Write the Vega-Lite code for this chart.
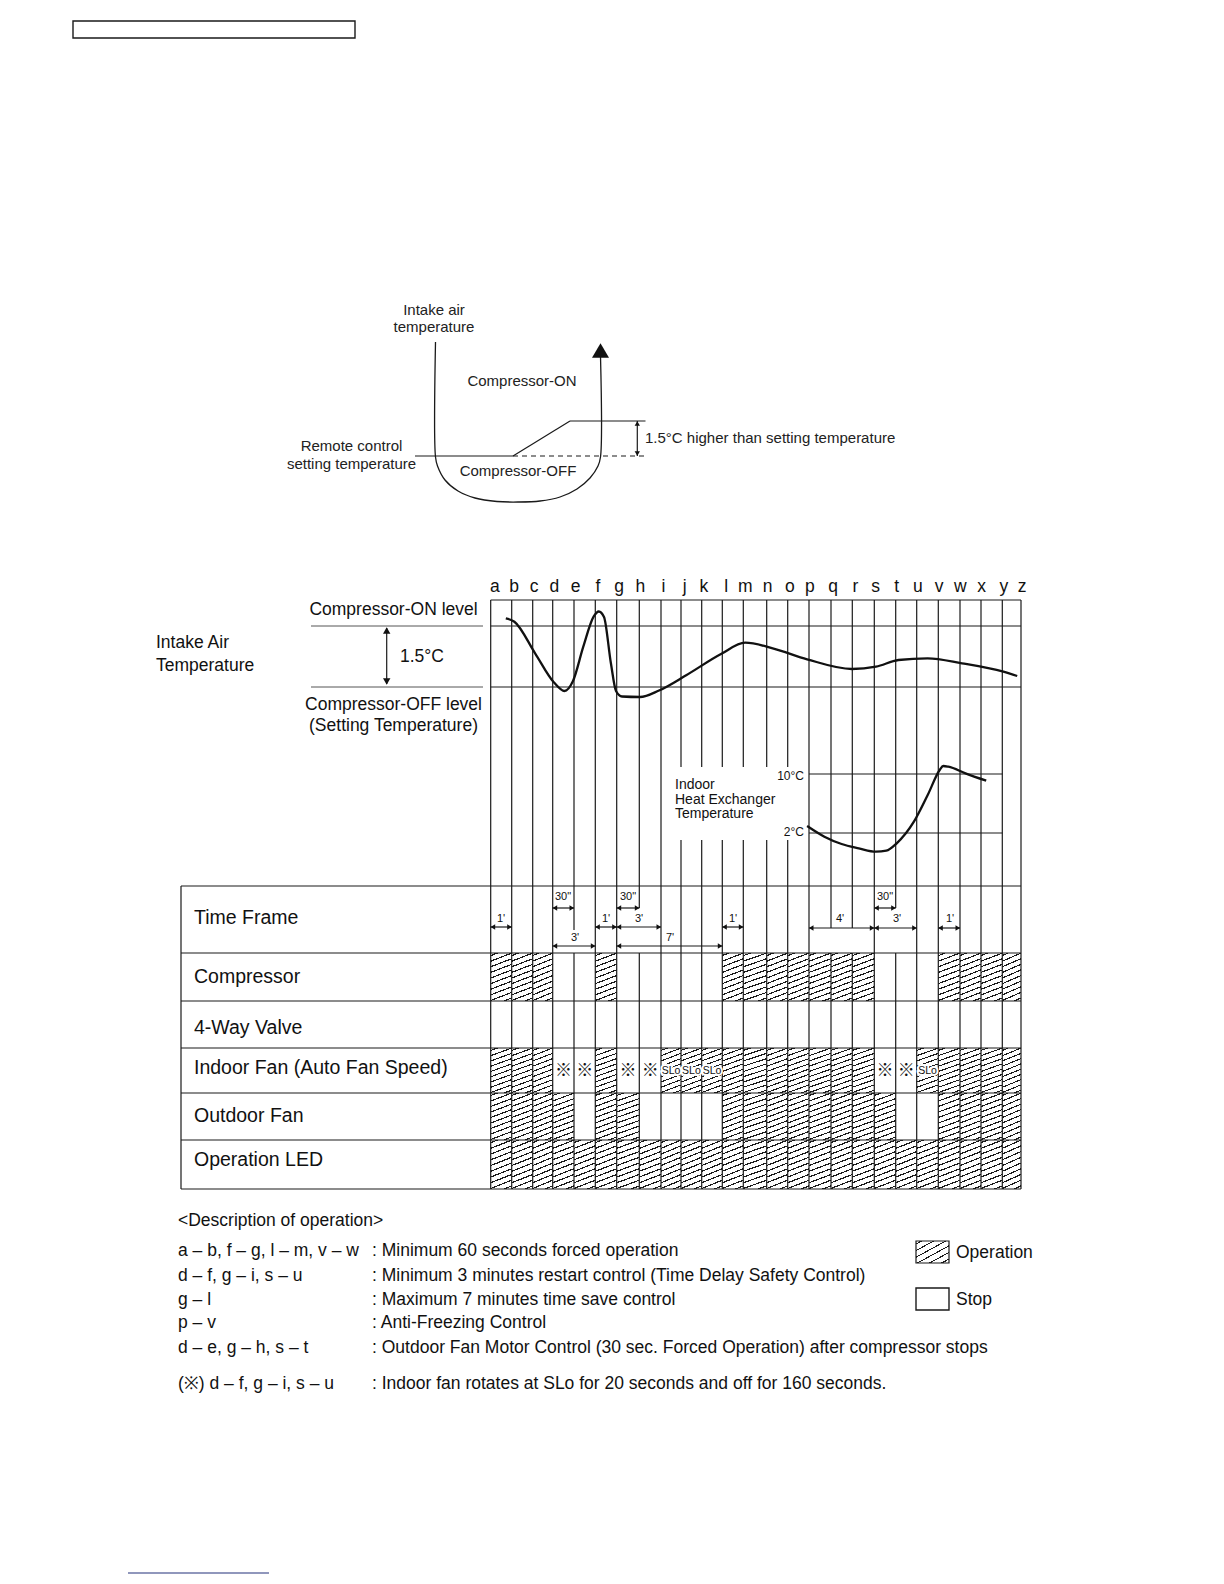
{
  "$schema": "https://vega.github.io/schema/vega-lite/v6.json",
  "width": 1224,
  "height": 1584,
  "autosize": {"type": "fit", "contains": "padding"},
  "padding": 0,
  "background": "white",
  "config": {"view": {"stroke": null}},
  "datasets": {
    "cells": [
      {"row":"Compressor","x1":490.7,"x2":511.7,"y1":953,"y2":1001},
      {"row":"Compressor","x1":511.7,"x2":532.7,"y1":953,"y2":1001},
      {"row":"Compressor","x1":532.7,"x2":552.7,"y1":953,"y2":1001},
      {"row":"Compressor","x1":595.3,"x2":616.7,"y1":953,"y2":1001},
      {"row":"Compressor","x1":722.3,"x2":743.3,"y1":953,"y2":1001},
      {"row":"Compressor","x1":743.3,"x2":766.7,"y1":953,"y2":1001},
      {"row":"Compressor","x1":766.7,"x2":787.7,"y1":953,"y2":1001},
      {"row":"Compressor","x1":787.7,"x2":809,"y1":953,"y2":1001},
      {"row":"Compressor","x1":809,"x2":831,"y1":953,"y2":1001},
      {"row":"Compressor","x1":831,"x2":852.3,"y1":953,"y2":1001},
      {"row":"Compressor","x1":852.3,"x2":874.3,"y1":953,"y2":1001},
      {"row":"Compressor","x1":938.3,"x2":960,"y1":953,"y2":1001},
      {"row":"Compressor","x1":960,"x2":981,"y1":953,"y2":1001},
      {"row":"Compressor","x1":981,"x2":1002.3,"y1":953,"y2":1001},
      {"row":"Compressor","x1":1002.3,"x2":1021,"y1":953,"y2":1001},
      {"row":"Indoor","x1":490.7,"x2":511.7,"y1":1048,"y2":1093},
      {"row":"Indoor","x1":511.7,"x2":532.7,"y1":1048,"y2":1093},
      {"row":"Indoor","x1":532.7,"x2":552.7,"y1":1048,"y2":1093},
      {"row":"Indoor","x1":595.3,"x2":616.7,"y1":1048,"y2":1093},
      {"row":"Indoor","x1":661,"x2":681,"y1":1048,"y2":1093},
      {"row":"Indoor","x1":681,"x2":701.7,"y1":1048,"y2":1093},
      {"row":"Indoor","x1":701.7,"x2":722.3,"y1":1048,"y2":1093},
      {"row":"Indoor","x1":722.3,"x2":743.3,"y1":1048,"y2":1093},
      {"row":"Indoor","x1":743.3,"x2":766.7,"y1":1048,"y2":1093},
      {"row":"Indoor","x1":766.7,"x2":787.7,"y1":1048,"y2":1093},
      {"row":"Indoor","x1":787.7,"x2":809,"y1":1048,"y2":1093},
      {"row":"Indoor","x1":809,"x2":831,"y1":1048,"y2":1093},
      {"row":"Indoor","x1":831,"x2":852.3,"y1":1048,"y2":1093},
      {"row":"Indoor","x1":852.3,"x2":874.3,"y1":1048,"y2":1093},
      {"row":"Indoor","x1":916.7,"x2":938.3,"y1":1048,"y2":1093},
      {"row":"Indoor","x1":938.3,"x2":960,"y1":1048,"y2":1093},
      {"row":"Indoor","x1":960,"x2":981,"y1":1048,"y2":1093},
      {"row":"Indoor","x1":981,"x2":1002.3,"y1":1048,"y2":1093},
      {"row":"Indoor","x1":1002.3,"x2":1021,"y1":1048,"y2":1093},
      {"row":"Outdoor","x1":490.7,"x2":511.7,"y1":1093,"y2":1140},
      {"row":"Outdoor","x1":511.7,"x2":532.7,"y1":1093,"y2":1140},
      {"row":"Outdoor","x1":532.7,"x2":552.7,"y1":1093,"y2":1140},
      {"row":"Outdoor","x1":552.7,"x2":574,"y1":1093,"y2":1140},
      {"row":"Outdoor","x1":595.3,"x2":616.7,"y1":1093,"y2":1140},
      {"row":"Outdoor","x1":616.7,"x2":639.3,"y1":1093,"y2":1140},
      {"row":"Outdoor","x1":722.3,"x2":743.3,"y1":1093,"y2":1140},
      {"row":"Outdoor","x1":743.3,"x2":766.7,"y1":1093,"y2":1140},
      {"row":"Outdoor","x1":766.7,"x2":787.7,"y1":1093,"y2":1140},
      {"row":"Outdoor","x1":787.7,"x2":809,"y1":1093,"y2":1140},
      {"row":"Outdoor","x1":809,"x2":831,"y1":1093,"y2":1140},
      {"row":"Outdoor","x1":831,"x2":852.3,"y1":1093,"y2":1140},
      {"row":"Outdoor","x1":852.3,"x2":874.3,"y1":1093,"y2":1140},
      {"row":"Outdoor","x1":874.3,"x2":895.7,"y1":1093,"y2":1140},
      {"row":"Outdoor","x1":938.3,"x2":960,"y1":1093,"y2":1140},
      {"row":"Outdoor","x1":960,"x2":981,"y1":1093,"y2":1140},
      {"row":"Outdoor","x1":981,"x2":1002.3,"y1":1093,"y2":1140},
      {"row":"Outdoor","x1":1002.3,"x2":1021,"y1":1093,"y2":1140},
      {"row":"LED","x1":490.7,"x2":511.7,"y1":1140,"y2":1189},
      {"row":"LED","x1":511.7,"x2":532.7,"y1":1140,"y2":1189},
      {"row":"LED","x1":532.7,"x2":552.7,"y1":1140,"y2":1189},
      {"row":"LED","x1":552.7,"x2":574,"y1":1140,"y2":1189},
      {"row":"LED","x1":574,"x2":595.3,"y1":1140,"y2":1189},
      {"row":"LED","x1":595.3,"x2":616.7,"y1":1140,"y2":1189},
      {"row":"LED","x1":616.7,"x2":639.3,"y1":1140,"y2":1189},
      {"row":"LED","x1":639.3,"x2":661,"y1":1140,"y2":1189},
      {"row":"LED","x1":661,"x2":681,"y1":1140,"y2":1189},
      {"row":"LED","x1":681,"x2":701.7,"y1":1140,"y2":1189},
      {"row":"LED","x1":701.7,"x2":722.3,"y1":1140,"y2":1189},
      {"row":"LED","x1":722.3,"x2":743.3,"y1":1140,"y2":1189},
      {"row":"LED","x1":743.3,"x2":766.7,"y1":1140,"y2":1189},
      {"row":"LED","x1":766.7,"x2":787.7,"y1":1140,"y2":1189},
      {"row":"LED","x1":787.7,"x2":809,"y1":1140,"y2":1189},
      {"row":"LED","x1":809,"x2":831,"y1":1140,"y2":1189},
      {"row":"LED","x1":831,"x2":852.3,"y1":1140,"y2":1189},
      {"row":"LED","x1":852.3,"x2":874.3,"y1":1140,"y2":1189},
      {"row":"LED","x1":874.3,"x2":895.7,"y1":1140,"y2":1189},
      {"row":"LED","x1":895.7,"x2":916.7,"y1":1140,"y2":1189},
      {"row":"LED","x1":916.7,"x2":938.3,"y1":1140,"y2":1189},
      {"row":"LED","x1":938.3,"x2":960,"y1":1140,"y2":1189},
      {"row":"LED","x1":960,"x2":981,"y1":1140,"y2":1189},
      {"row":"LED","x1":981,"x2":1002.3,"y1":1140,"y2":1189},
      {"row":"LED","x1":1002.3,"x2":1021,"y1":1140,"y2":1189}
    ],
    "legendHatch": [{"x1":916,"x2":949,"y1":1241,"y2":1263}],
    "boxes": [
      {"x1":73,"x2":355,"y1":21,"y2":38},
      {"x1":916,"x2":949,"y1":1288,"y2":1310}
    ],
    "segs": [
      {"x":490.7,"y":600,"x2":490.7,"y2":1189},
      {"x":511.7,"y":600,"x2":511.7,"y2":1189},
      {"x":532.7,"y":600,"x2":532.7,"y2":1189},
      {"x":552.7,"y":600,"x2":552.7,"y2":1189},
      {"x":574,"y":600,"x2":574,"y2":930},
      {"x":574,"y":953,"x2":574,"y2":1189},
      {"x":595.3,"y":600,"x2":595.3,"y2":1189},
      {"x":616.7,"y":600,"x2":616.7,"y2":1189},
      {"x":639.3,"y":600,"x2":639.3,"y2":908},
      {"x":639.3,"y":953,"x2":639.3,"y2":1189},
      {"x":661,"y":600,"x2":661,"y2":1189},
      {"x":681,"y":600,"x2":681,"y2":767},
      {"x":681,"y":840,"x2":681,"y2":1189},
      {"x":701.7,"y":600,"x2":701.7,"y2":767},
      {"x":701.7,"y":840,"x2":701.7,"y2":1189},
      {"x":722.3,"y":600,"x2":722.3,"y2":767},
      {"x":722.3,"y":840,"x2":722.3,"y2":1189},
      {"x":743.3,"y":600,"x2":743.3,"y2":767},
      {"x":743.3,"y":840,"x2":743.3,"y2":1189},
      {"x":766.7,"y":600,"x2":766.7,"y2":767},
      {"x":766.7,"y":840,"x2":766.7,"y2":1189},
      {"x":787.7,"y":600,"x2":787.7,"y2":767},
      {"x":787.7,"y":840,"x2":787.7,"y2":1189},
      {"x":809,"y":600,"x2":809,"y2":1189},
      {"x":831,"y":600,"x2":831,"y2":928},
      {"x":831,"y":953,"x2":831,"y2":1189},
      {"x":852.3,"y":600,"x2":852.3,"y2":928},
      {"x":852.3,"y":953,"x2":852.3,"y2":1189},
      {"x":874.3,"y":600,"x2":874.3,"y2":1189},
      {"x":895.7,"y":600,"x2":895.7,"y2":908},
      {"x":895.7,"y":953,"x2":895.7,"y2":1189},
      {"x":916.7,"y":600,"x2":916.7,"y2":1189},
      {"x":938.3,"y":600,"x2":938.3,"y2":1189},
      {"x":960,"y":600,"x2":960,"y2":1189},
      {"x":981,"y":600,"x2":981,"y2":1189},
      {"x":1002.3,"y":600,"x2":1002.3,"y2":1189},
      {"x":1021,"y":600,"x2":1021,"y2":1189},
      {"x":181,"y":886,"x2":181,"y2":1189},
      {"x":490.7,"y":600,"x2":1021,"y2":600},
      {"x":490.7,"y":626,"x2":1021,"y2":626},
      {"x":490.7,"y":687,"x2":1021,"y2":687},
      {"x":809,"y":774,"x2":1002.3,"y2":774},
      {"x":809,"y":833,"x2":1002.3,"y2":833},
      {"x":181,"y":886,"x2":1021,"y2":886},
      {"x":181,"y":953,"x2":1021,"y2":953},
      {"x":181,"y":1001,"x2":1021,"y2":1001},
      {"x":181,"y":1048,"x2":1021,"y2":1048},
      {"x":181,"y":1093,"x2":1021,"y2":1093},
      {"x":181,"y":1140,"x2":1021,"y2":1140},
      {"x":181,"y":1189,"x2":1021,"y2":1189},
      {"x":415,"y":456,"x2":513,"y2":456},
      {"x":513,"y":456,"x2":570,"y2":421},
      {"x":570,"y":421,"x2":645.5,"y2":421},
      {"x":637.3,"y":421,"x2":637.3,"y2":456},
      {"x":386.7,"y":628,"x2":386.7,"y2":684},
      {"x":490.7,"y":927,"x2":511.7,"y2":927},
      {"x":552.7,"y":908,"x2":574,"y2":908},
      {"x":552.7,"y":946,"x2":595.3,"y2":946},
      {"x":595.3,"y":927,"x2":616.7,"y2":927},
      {"x":616.7,"y":908,"x2":639.3,"y2":908},
      {"x":616.7,"y":927,"x2":661,"y2":927},
      {"x":616.7,"y":946,"x2":722.3,"y2":946},
      {"x":722.3,"y":927,"x2":743.3,"y2":927},
      {"x":809,"y":928,"x2":874.3,"y2":928},
      {"x":874.3,"y":908,"x2":895.7,"y2":908},
      {"x":874.3,"y":928,"x2":916.7,"y2":928},
      {"x":938.3,"y":928,"x2":960,"y2":928}
    ],
    "graySegs": [
      {"x":311,"y":626,"x2":483,"y2":626},
      {"x":311,"y":687,"x2":483,"y2":687}
    ],
    "dashSegs": [{"x":513,"y":456,"x2":645.5,"y2":456}],
    "footSegs": [{"x":128,"y":1573,"x2":269,"y2":1573}],
    "intake": [
      {"x":505.8,"y":618.3},{"x":514.4,"y":621.7},{"x":535.1,"y":653.3},{"x":554,"y":682.5},
      {"x":564.4,"y":691},{"x":573,"y":681},{"x":583.3,"y":646.7},{"x":593.6,"y":616.7},
      {"x":598.8,"y":611.5},{"x":604,"y":617},{"x":610.9,"y":663.3},{"x":616,"y":691},
      {"x":622,"y":696.5},{"x":640,"y":697},{"x":659,"y":690.5},{"x":686.6,"y":675},
      {"x":721,"y":654},{"x":745.2,"y":642.7},{"x":772.7,"y":648.3},{"x":807.1,"y":659.3},
      {"x":851.9,"y":669},{"x":876,"y":666.7},{"x":898.4,"y":660},{"x":927.6,"y":658.3},
      {"x":962,"y":663.3},{"x":1003.4,"y":671.7},{"x":1017.2,"y":676}
    ],
    "heat": [
      {"x":807.1,"y":826},{"x":824.4,"y":836.7},{"x":841.6,"y":844},{"x":858.8,"y":848.3},
      {"x":876,"y":851.7},{"x":886.3,"y":850.7},{"x":896.7,"y":843.3},{"x":913.9,"y":821.7},
      {"x":927.7,"y":795},{"x":939.7,"y":770},{"x":943.2,"y":766},{"x":948.3,"y":766.7},
      {"x":965.5,"y":773.3},{"x":986.2,"y":780.7}
    ],
    "ushape": [
      {"i":0,"x":435.5,"y":342},{"i":1,"x":435.5,"y":457},{"i":2,"x":437.5,"y":466},
      {"i":3,"x":445,"y":480},{"i":4,"x":458,"y":491},{"i":5,"x":475,"y":498},
      {"i":6,"x":497,"y":501.5},{"i":7,"x":518,"y":502},{"i":8,"x":540,"y":501},
      {"i":9,"x":560,"y":497},{"i":10,"x":577,"y":489},{"i":11,"x":590,"y":478},
      {"i":12,"x":598,"y":466},{"i":13,"x":600.5,"y":457},{"i":14,"x":600.5,"y":356}
    ],
    "heads": [
      {"x":492.9,"y":927,"dir":"l"},{"x":509.5,"y":927,"dir":"r"},
      {"x":554.9,"y":908,"dir":"l"},{"x":571.8,"y":908,"dir":"r"},
      {"x":554.9,"y":946,"dir":"l"},{"x":593.1,"y":946,"dir":"r"},
      {"x":597.5,"y":927,"dir":"l"},{"x":614.5,"y":927,"dir":"r"},
      {"x":618.9,"y":908,"dir":"l"},{"x":637.1,"y":908,"dir":"r"},
      {"x":618.9,"y":927,"dir":"l"},{"x":658.8,"y":927,"dir":"r"},
      {"x":618.9,"y":946,"dir":"l"},{"x":720.1,"y":946,"dir":"r"},
      {"x":724.5,"y":927,"dir":"l"},{"x":741.1,"y":927,"dir":"r"},
      {"x":811.2,"y":928,"dir":"l"},{"x":872.1,"y":928,"dir":"r"},
      {"x":876.5,"y":908,"dir":"l"},{"x":893.5,"y":908,"dir":"r"},
      {"x":876.5,"y":928,"dir":"l"},{"x":914.5,"y":928,"dir":"r"},
      {"x":940.5,"y":928,"dir":"l"},{"x":957.8,"y":928,"dir":"r"},
      {"x":637.3,"y":423.5,"dir":"u"},{"x":637.3,"y":453.5,"dir":"d"}
    ],
    "headsMid": [
      {"x":386.7,"y":630.5,"dir":"u"},{"x":386.7,"y":681.5,"dir":"d"}
    ],
    "headsBig": [{"x":600.5,"y":350.5,"dir":"u"}],
    "tSchemC": [
      {"x":434,"y":310,"t":"Intake air"},
      {"x":434,"y":327,"t":"temperature"},
      {"x":522,"y":381,"t":"Compressor-ON"},
      {"x":518,"y":471,"t":"Compressor-OFF"},
      {"x":351.5,"y":446,"t":"Remote control"},
      {"x":351.5,"y":464,"t":"setting temperature"}
    ],
    "tSchemL": [{"x":645,"y":438,"t":"1.5°C higher than setting temperature"}],
    "tLettersC": [
      {"x":494.8,"y":587,"t":"a"},{"x":514,"y":587,"t":"b"},{"x":534.2,"y":587,"t":"c"},
      {"x":554.4,"y":587,"t":"d"},{"x":575.6,"y":587,"t":"e"},{"x":597.9,"y":587,"t":"f"},
      {"x":619,"y":587,"t":"g"},{"x":640.3,"y":587,"t":"h"},{"x":663.5,"y":587,"t":"i"},
      {"x":684.7,"y":587,"t":"j"},{"x":703.9,"y":587,"t":"k"},{"x":726.1,"y":587,"t":"l"},
      {"x":745.3,"y":587,"t":"m"},{"x":767.5,"y":587,"t":"n"},{"x":789.8,"y":587,"t":"o"},
      {"x":809.9,"y":587,"t":"p"},{"x":833.2,"y":587,"t":"q"},{"x":855.4,"y":587,"t":"r"},
      {"x":875.6,"y":587,"t":"s"},{"x":896.8,"y":587,"t":"t"},{"x":917.9,"y":587,"t":"u"},
      {"x":939.2,"y":587,"t":"v"},{"x":960.4,"y":587,"t":"w"},{"x":981.6,"y":587,"t":"x"},
      {"x":1003.8,"y":587,"t":"y"},{"x":1022,"y":587,"t":"z"},
      {"x":393.5,"y":610,"t":"Compressor-ON level"},
      {"x":393.5,"y":705,"t":"Compressor-OFF level"},
      {"x":393.5,"y":726,"t":"(Setting Temperature)"}
    ],
    "tGridL": [
      {"x":156,"y":643,"t":"Intake Air"},
      {"x":156,"y":666,"t":"Temperature"},
      {"x":400,"y":657,"t":"1.5°C"}
    ],
    "tHeat": [
      {"x":675,"y":785,"t":"Indoor"},
      {"x":675,"y":800,"t":"Heat Exchanger"},
      {"x":675,"y":814,"t":"Temperature"}
    ],
    "tDeg": [
      {"x":804,"y":776,"t":"10°C"},
      {"x":804,"y":832,"t":"2°C"}
    ],
    "tTable": [
      {"x":194,"y":918,"t":"Time Frame"},
      {"x":194,"y":977,"t":"Compressor"},
      {"x":194,"y":1028,"t":"4-Way Valve"},
      {"x":194,"y":1068,"t":"Indoor Fan (Auto Fan Speed)"},
      {"x":194,"y":1116,"t":"Outdoor Fan"},
      {"x":194,"y":1160,"t":"Operation LED"}
    ],
    "tTime": [
      {"x":501,"y":919,"t":"1'"},
      {"x":563,"y":897,"t":"30\""},
      {"x":575,"y":938,"t":"3'"},
      {"x":606,"y":919,"t":"1'"},
      {"x":628,"y":897,"t":"30\""},
      {"x":639,"y":919,"t":"3'"},
      {"x":670,"y":938,"t":"7'"},
      {"x":733,"y":919,"t":"1'"},
      {"x":840,"y":919,"t":"4'"},
      {"x":885,"y":897,"t":"30\""},
      {"x":897,"y":919,"t":"3'"},
      {"x":950,"y":919,"t":"1'"}
    ],
    "tMark": [
      {"x":563.4,"y":1071,"t":"※"},{"x":584.7,"y":1071,"t":"※"},
      {"x":628,"y":1071,"t":"※"},{"x":650.2,"y":1071,"t":"※"},
      {"x":885,"y":1071,"t":"※"},{"x":906.2,"y":1071,"t":"※"}
    ],
    "tSlo": [
      {"x":671,"y":1071,"t":"SLo"},{"x":691.4,"y":1071,"t":"SLo"},
      {"x":712,"y":1071,"t":"SLo"},{"x":927.5,"y":1071,"t":"SLo"}
    ],
    "tDesc": [
      {"x":178,"y":1221,"t":"<Description of operation>"},
      {"x":178,"y":1251,"t":"a – b, f – g, l – m, v – w"},
      {"x":178,"y":1275.5,"t":"d – f, g – i, s – u"},
      {"x":178,"y":1300,"t":"g – l"},
      {"x":178,"y":1323,"t":"p – v"},
      {"x":178,"y":1348,"t":"d – e, g – h, s – t"},
      {"x":178,"y":1383.5,"t":"(※) d – f, g – i, s – u"},
      {"x":372,"y":1251,"t":": Minimum 60 seconds forced operation"},
      {"x":372,"y":1275.5,"t":": Minimum 3 minutes restart control (Time Delay Safety Control)"},
      {"x":372,"y":1300,"t":": Maximum 7 minutes time save control"},
      {"x":372,"y":1323,"t":": Anti-Freezing Control"},
      {"x":372,"y":1348,"t":": Outdoor Fan Motor Control (30 sec. Forced Operation) after compressor stops"},
      {"x":372,"y":1383.5,"t":": Indoor fan rotates at SLo for 20 seconds and off for 160 seconds."},
      {"x":956,"y":1253,"t":"Operation"},
      {"x":956,"y":1300,"t":"Stop"}
    ]
  },
  "layer": [
    {
      "data": {"name": "cells"},
      "mark": {"type": "rect", "strokeWidth": 0, "fill": {"gradient": "linear", "x1": 0, "y1": 0, "x2": 0.193, "y2": 1.137, "stops": [
        {"offset":0,"color":"#ffffff"},
        {"offset":0.035,"color":"#ffffff"},{"offset":0.035,"color":"#1a1a1a"},{"offset":0.057,"color":"#1a1a1a"},{"offset":0.057,"color":"#ffffff"},
        {"offset":0.135,"color":"#ffffff"},{"offset":0.135,"color":"#1a1a1a"},{"offset":0.157,"color":"#1a1a1a"},{"offset":0.157,"color":"#ffffff"},
        {"offset":0.235,"color":"#ffffff"},{"offset":0.235,"color":"#1a1a1a"},{"offset":0.257,"color":"#1a1a1a"},{"offset":0.257,"color":"#ffffff"},
        {"offset":0.335,"color":"#ffffff"},{"offset":0.335,"color":"#1a1a1a"},{"offset":0.357,"color":"#1a1a1a"},{"offset":0.357,"color":"#ffffff"},
        {"offset":0.435,"color":"#ffffff"},{"offset":0.435,"color":"#1a1a1a"},{"offset":0.457,"color":"#1a1a1a"},{"offset":0.457,"color":"#ffffff"},
        {"offset":0.535,"color":"#ffffff"},{"offset":0.535,"color":"#1a1a1a"},{"offset":0.557,"color":"#1a1a1a"},{"offset":0.557,"color":"#ffffff"},
        {"offset":0.635,"color":"#ffffff"},{"offset":0.635,"color":"#1a1a1a"},{"offset":0.657,"color":"#1a1a1a"},{"offset":0.657,"color":"#ffffff"},
        {"offset":0.735,"color":"#ffffff"},{"offset":0.735,"color":"#1a1a1a"},{"offset":0.757,"color":"#1a1a1a"},{"offset":0.757,"color":"#ffffff"},
        {"offset":0.835,"color":"#ffffff"},{"offset":0.835,"color":"#1a1a1a"},{"offset":0.857,"color":"#1a1a1a"},{"offset":0.857,"color":"#ffffff"},
        {"offset":0.935,"color":"#ffffff"},{"offset":0.935,"color":"#1a1a1a"},{"offset":0.957,"color":"#1a1a1a"},{"offset":0.957,"color":"#ffffff"},
        {"offset":1,"color":"#ffffff"}
      ]}},
      "encoding": {
        "x": {"field": "x1", "type": "quantitative", "scale": {"domain": [0, 1224], "nice": false, "zero": false}, "axis": null},
        "x2": {"field": "x2"},
        "y": {"field": "y1", "type": "quantitative", "scale": {"domain": [1584, 0], "nice": false, "zero": false}, "axis": null},
        "y2": {"field": "y2"}
      }
    },
    {
      "data": {"name": "legendHatch"},
      "mark": {"type": "rect", "stroke": "#1a1a1a", "strokeWidth": 1.2, "fill": {"gradient": "linear", "x1": 0, "y1": 0, "x2": 0.891, "y2": 1.089, "stops": [
        {"offset":0,"color":"#ffffff"},
        {"offset":0.06,"color":"#ffffff"},{"offset":0.06,"color":"#1a1a1a"},{"offset":0.09,"color":"#1a1a1a"},{"offset":0.09,"color":"#ffffff"},
        {"offset":0.225,"color":"#ffffff"},{"offset":0.225,"color":"#1a1a1a"},{"offset":0.255,"color":"#1a1a1a"},{"offset":0.255,"color":"#ffffff"},
        {"offset":0.39,"color":"#ffffff"},{"offset":0.39,"color":"#1a1a1a"},{"offset":0.42,"color":"#1a1a1a"},{"offset":0.42,"color":"#ffffff"},
        {"offset":0.555,"color":"#ffffff"},{"offset":0.555,"color":"#1a1a1a"},{"offset":0.585,"color":"#1a1a1a"},{"offset":0.585,"color":"#ffffff"},
        {"offset":0.72,"color":"#ffffff"},{"offset":0.72,"color":"#1a1a1a"},{"offset":0.75,"color":"#1a1a1a"},{"offset":0.75,"color":"#ffffff"},
        {"offset":0.885,"color":"#ffffff"},{"offset":0.885,"color":"#1a1a1a"},{"offset":0.915,"color":"#1a1a1a"},{"offset":0.915,"color":"#ffffff"},
        {"offset":1,"color":"#ffffff"}
      ]}},
      "encoding": {
        "x": {"field": "x1", "type": "quantitative", "scale": {"domain": [0, 1224], "nice": false, "zero": false}, "axis": null},
        "x2": {"field": "x2"},
        "y": {"field": "y1", "type": "quantitative", "scale": {"domain": [1584, 0], "nice": false, "zero": false}, "axis": null},
        "y2": {"field": "y2"}
      }
    },
    {
      "data": {"name": "boxes"},
      "mark": {"type": "rect", "fill": null, "fillOpacity": 0, "stroke": "#1a1a1a", "strokeWidth": 1.4},
      "encoding": {
        "x": {"field": "x1", "type": "quantitative", "scale": {"domain": [0, 1224], "nice": false, "zero": false}, "axis": null},
        "x2": {"field": "x2"},
        "y": {"field": "y1", "type": "quantitative", "scale": {"domain": [1584, 0], "nice": false, "zero": false}, "axis": null},
        "y2": {"field": "y2"}
      }
    },
    {
      "data": {"name": "segs"},
      "mark": {"type": "rule", "color": "#1a1a1a", "strokeWidth": 1.2},
      "encoding": {
        "x": {"field": "x", "type": "quantitative", "scale": {"domain": [0, 1224], "nice": false, "zero": false}, "axis": null},
        "x2": {"field": "x2"},
        "y": {"field": "y", "type": "quantitative", "scale": {"domain": [1584, 0], "nice": false, "zero": false}, "axis": null},
        "y2": {"field": "y2"}
      }
    },
    {
      "data": {"name": "graySegs"},
      "mark": {"type": "rule", "color": "#555555", "strokeWidth": 1},
      "encoding": {
        "x": {"field": "x", "type": "quantitative", "scale": {"domain": [0, 1224], "nice": false, "zero": false}, "axis": null},
        "x2": {"field": "x2"},
        "y": {"field": "y", "type": "quantitative", "scale": {"domain": [1584, 0], "nice": false, "zero": false}, "axis": null},
        "y2": {"field": "y2"}
      }
    },
    {
      "data": {"name": "dashSegs"},
      "mark": {"type": "rule", "color": "#1a1a1a", "strokeWidth": 1.2, "strokeDash": [5, 4]},
      "encoding": {
        "x": {"field": "x", "type": "quantitative", "scale": {"domain": [0, 1224], "nice": false, "zero": false}, "axis": null},
        "x2": {"field": "x2"},
        "y": {"field": "y", "type": "quantitative", "scale": {"domain": [1584, 0], "nice": false, "zero": false}, "axis": null},
        "y2": {"field": "y2"}
      }
    },
    {
      "data": {"name": "footSegs"},
      "mark": {"type": "rule", "color": "#22307a", "strokeWidth": 1.2},
      "encoding": {
        "x": {"field": "x", "type": "quantitative", "scale": {"domain": [0, 1224], "nice": false, "zero": false}, "axis": null},
        "x2": {"field": "x2"},
        "y": {"field": "y", "type": "quantitative", "scale": {"domain": [1584, 0], "nice": false, "zero": false}, "axis": null},
        "y2": {"field": "y2"}
      }
    },
    {
      "data": {"name": "intake"},
      "mark": {"type": "line", "color": "#111111", "strokeWidth": 2.3, "interpolate": "monotone"},
      "encoding": {
        "x": {"field": "x", "type": "quantitative", "scale": {"domain": [0, 1224], "nice": false, "zero": false}, "axis": null},
        "y": {"field": "y", "type": "quantitative", "scale": {"domain": [1584, 0], "nice": false, "zero": false}, "axis": null}
      }
    },
    {
      "data": {"name": "heat"},
      "mark": {"type": "line", "color": "#111111", "strokeWidth": 2.3, "interpolate": "monotone"},
      "encoding": {
        "x": {"field": "x", "type": "quantitative", "scale": {"domain": [0, 1224], "nice": false, "zero": false}, "axis": null},
        "y": {"field": "y", "type": "quantitative", "scale": {"domain": [1584, 0], "nice": false, "zero": false}, "axis": null}
      }
    },
    {
      "data": {"name": "ushape"},
      "mark": {"type": "line", "color": "#1a1a1a", "strokeWidth": 1.3, "interpolate": "catmull-rom"},
      "encoding": {
        "x": {"field": "x", "type": "quantitative", "scale": {"domain": [0, 1224], "nice": false, "zero": false}, "axis": null},
        "y": {"field": "y", "type": "quantitative", "scale": {"domain": [1584, 0], "nice": false, "zero": false}, "axis": null},
        "order": {"field": "i", "type": "quantitative"}
      }
    },
    {
      "data": {"name": "heads"},
      "mark": {"type": "point", "filled": true, "color": "#111111", "opacity": 1, "size": 28},
      "encoding": {
        "x": {"field": "x", "type": "quantitative", "scale": {"domain": [0, 1224], "nice": false, "zero": false}, "axis": null},
        "y": {"field": "y", "type": "quantitative", "scale": {"domain": [1584, 0], "nice": false, "zero": false}, "axis": null},
        "shape": {"field": "dir", "type": "nominal", "scale": {"domain": ["l", "r", "u", "d"], "range": ["triangle-left", "triangle-right", "triangle-up", "triangle-down"]}, "legend": null}
      }
    },
    {
      "data": {"name": "headsMid"},
      "mark": {"type": "point", "filled": true, "color": "#111111", "opacity": 1, "size": 55},
      "encoding": {
        "x": {"field": "x", "type": "quantitative", "scale": {"domain": [0, 1224], "nice": false, "zero": false}, "axis": null},
        "y": {"field": "y", "type": "quantitative", "scale": {"domain": [1584, 0], "nice": false, "zero": false}, "axis": null},
        "shape": {"field": "dir", "type": "nominal", "scale": {"domain": ["l", "r", "u", "d"], "range": ["triangle-left", "triangle-right", "triangle-up", "triangle-down"]}, "legend": null}
      }
    },
    {
      "data": {"name": "headsBig"},
      "mark": {"type": "point", "filled": true, "color": "#111111", "opacity": 1, "size": 289},
      "encoding": {
        "x": {"field": "x", "type": "quantitative", "scale": {"domain": [0, 1224], "nice": false, "zero": false}, "axis": null},
        "y": {"field": "y", "type": "quantitative", "scale": {"domain": [1584, 0], "nice": false, "zero": false}, "axis": null},
        "shape": {"field": "dir", "type": "nominal", "scale": {"domain": ["l", "r", "u", "d"], "range": ["triangle-left", "triangle-right", "triangle-up", "triangle-down"]}, "legend": null}
      }
    },
    {
      "data": {"name": "tSchemC"},
      "mark": {"type": "text", "font": "Liberation Sans", "fontSize": 15, "align": "center", "baseline": "middle", "color": "#222222"},
      "encoding": {
        "x": {"field": "x", "type": "quantitative", "scale": {"domain": [0, 1224], "nice": false, "zero": false}, "axis": null},
        "y": {"field": "y", "type": "quantitative", "scale": {"domain": [1584, 0], "nice": false, "zero": false}, "axis": null},
        "text": {"field": "t"}
      }
    },
    {
      "data": {"name": "tSchemL"},
      "mark": {"type": "text", "font": "Liberation Sans", "fontSize": 15, "align": "left", "baseline": "middle", "color": "#222222"},
      "encoding": {
        "x": {"field": "x", "type": "quantitative", "scale": {"domain": [0, 1224], "nice": false, "zero": false}, "axis": null},
        "y": {"field": "y", "type": "quantitative", "scale": {"domain": [1584, 0], "nice": false, "zero": false}, "axis": null},
        "text": {"field": "t"}
      }
    },
    {
      "data": {"name": "tLettersC"},
      "mark": {"type": "text", "font": "Liberation Sans", "fontSize": 17.5, "align": "center", "baseline": "middle", "color": "#111111"},
      "encoding": {
        "x": {"field": "x", "type": "quantitative", "scale": {"domain": [0, 1224], "nice": false, "zero": false}, "axis": null},
        "y": {"field": "y", "type": "quantitative", "scale": {"domain": [1584, 0], "nice": false, "zero": false}, "axis": null},
        "text": {"field": "t"}
      }
    },
    {
      "data": {"name": "tGridL"},
      "mark": {"type": "text", "font": "Liberation Sans", "fontSize": 17.5, "align": "left", "baseline": "middle", "color": "#111111"},
      "encoding": {
        "x": {"field": "x", "type": "quantitative", "scale": {"domain": [0, 1224], "nice": false, "zero": false}, "axis": null},
        "y": {"field": "y", "type": "quantitative", "scale": {"domain": [1584, 0], "nice": false, "zero": false}, "axis": null},
        "text": {"field": "t"}
      }
    },
    {
      "data": {"name": "tHeat"},
      "mark": {"type": "text", "font": "Liberation Sans", "fontSize": 14, "align": "left", "baseline": "middle", "color": "#111111"},
      "encoding": {
        "x": {"field": "x", "type": "quantitative", "scale": {"domain": [0, 1224], "nice": false, "zero": false}, "axis": null},
        "y": {"field": "y", "type": "quantitative", "scale": {"domain": [1584, 0], "nice": false, "zero": false}, "axis": null},
        "text": {"field": "t"}
      }
    },
    {
      "data": {"name": "tDeg"},
      "mark": {"type": "text", "font": "Liberation Sans", "fontSize": 12, "align": "right", "baseline": "middle", "color": "#111111"},
      "encoding": {
        "x": {"field": "x", "type": "quantitative", "scale": {"domain": [0, 1224], "nice": false, "zero": false}, "axis": null},
        "y": {"field": "y", "type": "quantitative", "scale": {"domain": [1584, 0], "nice": false, "zero": false}, "axis": null},
        "text": {"field": "t"}
      }
    },
    {
      "data": {"name": "tTable"},
      "mark": {"type": "text", "font": "Liberation Sans", "fontSize": 19.5, "align": "left", "baseline": "middle", "color": "#111111"},
      "encoding": {
        "x": {"field": "x", "type": "quantitative", "scale": {"domain": [0, 1224], "nice": false, "zero": false}, "axis": null},
        "y": {"field": "y", "type": "quantitative", "scale": {"domain": [1584, 0], "nice": false, "zero": false}, "axis": null},
        "text": {"field": "t"}
      }
    },
    {
      "data": {"name": "tTime"},
      "mark": {"type": "text", "font": "Liberation Sans", "fontSize": 11, "align": "center", "baseline": "middle", "color": "#111111"},
      "encoding": {
        "x": {"field": "x", "type": "quantitative", "scale": {"domain": [0, 1224], "nice": false, "zero": false}, "axis": null},
        "y": {"field": "y", "type": "quantitative", "scale": {"domain": [1584, 0], "nice": false, "zero": false}, "axis": null},
        "text": {"field": "t"}
      }
    },
    {
      "data": {"name": "tMark"},
      "mark": {"type": "text", "font": "Noto Sans CJK JP", "fontSize": 17, "fontWeight": "bold", "align": "center", "baseline": "middle", "color": "#111111"},
      "encoding": {
        "x": {"field": "x", "type": "quantitative", "scale": {"domain": [0, 1224], "nice": false, "zero": false}, "axis": null},
        "y": {"field": "y", "type": "quantitative", "scale": {"domain": [1584, 0], "nice": false, "zero": false}, "axis": null},
        "text": {"field": "t"}
      }
    },
    {
      "data": {"name": "tSlo"},
      "mark": {"type": "text", "font": "Liberation Sans", "fontSize": 10.5, "align": "center", "baseline": "middle", "color": "#ffffff", "stroke": "#ffffff", "strokeWidth": 4},
      "encoding": {
        "x": {"field": "x", "type": "quantitative", "scale": {"domain": [0, 1224], "nice": false, "zero": false}, "axis": null},
        "y": {"field": "y", "type": "quantitative", "scale": {"domain": [1584, 0], "nice": false, "zero": false}, "axis": null},
        "text": {"field": "t"}
      }
    },
    {
      "data": {"name": "tSlo"},
      "mark": {"type": "text", "font": "Liberation Sans", "fontSize": 10.5, "align": "center", "baseline": "middle", "color": "#111111"},
      "encoding": {
        "x": {"field": "x", "type": "quantitative", "scale": {"domain": [0, 1224], "nice": false, "zero": false}, "axis": null},
        "y": {"field": "y", "type": "quantitative", "scale": {"domain": [1584, 0], "nice": false, "zero": false}, "axis": null},
        "text": {"field": "t"}
      }
    },
    {
      "data": {"name": "tDesc"},
      "mark": {"type": "text", "font": "Liberation Sans", "fontSize": 17.5, "align": "left", "baseline": "middle", "color": "#111111"},
      "encoding": {
        "x": {"field": "x", "type": "quantitative", "scale": {"domain": [0, 1224], "nice": false, "zero": false}, "axis": null},
        "y": {"field": "y", "type": "quantitative", "scale": {"domain": [1584, 0], "nice": false, "zero": false}, "axis": null},
        "text": {"field": "t"}
      }
    }
  ]
}
